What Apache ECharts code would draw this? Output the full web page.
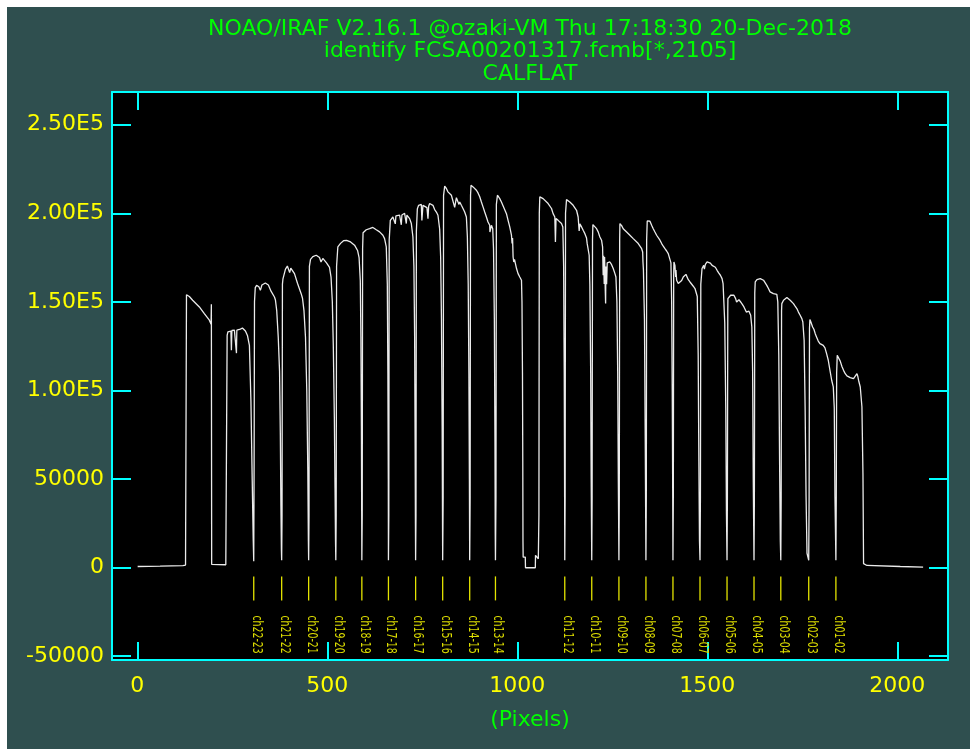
<!DOCTYPE html>
<html><head><meta charset="utf-8">
<script src="https://cdn.jsdelivr.net/npm/echarts@6/dist/echarts.min.js"></script>
<style>
html,body{margin:0;padding:0;background:#ffffff;}
#chart{position:absolute;left:7px;top:7px;width:963px;height:742px;}
</style></head><body><div id="chart"></div>
<script>
// ---------------- data ----------------
const titleLines = [
  'NOAO/IRAF V2.16.1 @ozaki-VM Thu 17:18:30 20-Dec-2018',
  'identify FCSA00201317.fcmb[*,2105]',
  'CALFLAT'
];
const xAxisName = '(Pixels)';
const xTicks = [0, 500, 1000, 1500, 2000];
const xTickLabels = ['0', '500', '1000', '1500', '2000'];
const yTicks = [-50000, 0, 50000, 100000, 150000, 200000, 250000];
const yTickLabels = ['-50000', '0', '50000', '1.00E5', '1.50E5', '2.00E5', '2.50E5'];

// identified features (gaps between channels)
const featureX = [306.5, 380, 451, 522.5, 591, 661, 732.5, 803.7, 874.8, 942.6,
  1125, 1196, 1267.5, 1338.6, 1409.7, 1480.9, 1552, 1623, 1693.5, 1767, 1838.5];
const featureLabels = ['ch22-23', 'ch21-22', 'ch20-21', 'ch19-20', 'ch18-19', 'ch17-18', 'ch16-17',
  'ch15-16', 'ch14-15', 'ch13-14', 'ch11-12', 'ch10-11', 'ch09-10', 'ch08-09', 'ch07-08',
  'ch06-07', 'ch05-06', 'ch04-05', 'ch03-04', 'ch02-03', 'ch01-02'];

// spectrum: [pixel, counts]
const spectrum = [
  [1,500],[60,700],[120,1000],[127,1300],
  [129.5,154000],[137,153000],[145.7,150900],[163.4,147100],[176.5,143300],[189.7,139600],[194.2,137300],[195,148600],[195.8,1700],
  [198,1500],[233,1500],[235,2500],
  [236.5,131000],[238.5,133000],[242.4,133500],[246.4,133500],[247.7,122600],[249,133800],[255.6,134000],[260,134000],[261,121000],[262,134000],[271.4,134600],[276.7,135200],[284.6,133500],[289.9,131000],[295.1,125400],[299.1,94000],[302.5,49000],[305.2,15000],[306.5,3500],
  [307.5,60000],[308.5,150000],[310.5,158000],[314,159300],[320,158500],[324,156500],[328,159500],[337,160600],[345,159500],[352,156000],[361,152700],[363.6,151000],[367,145000],[371,130000],[374.4,111000],[376.5,75000],[378,35000],[379.3,10000],[380,4000],
  [381,30000],[382,160000],[383.4,163000],[390,168500],[395,170200],[398.7,170000],[401,166500],[404,169000],[413.7,165900],[421.6,160500],[431.3,154600],[434.8,152000],[438.7,145000],[442.7,130000],[446.1,100000],[448.8,55000],[450.3,15000],[451,4000],
  [452,30000],[453,170000],[455.9,174000],[462,175500],[470.9,176300],[479.6,175000],[483.5,172500],[488.3,174500],[498,172000],[505.9,169500],[509.9,164000],[513.3,150000],[515.9,125000],[518.6,85000],[520.4,45000],[521.7,15000],[522.5,4000],
  [523.5,30000],[524.5,170000],[527.8,181000],[534.9,183000],[542.8,184500],[550.7,184700],[561.3,183800],[571.8,182000],[579.7,179000],[583.7,175000],[586.9,162000],[588.5,130000],[589.8,80000],[590.6,30000],[591,4000],
  [592,30000],[593,180000],[594.2,189000],[602.6,190700],[611.4,191300],[620,192000],[629,190700],[637.7,189500],[646.4,187600],[650.8,185700],[655.3,181000],[658,160000],[659.5,110000],[660.6,50000],[661,4000],
  [662,30000],[663,185000],[665.9,196000],[672.7,197900],[677.2,198500],[679,194000],[680.6,198500],[690.4,198900],[694.8,193500],[696.4,199000],[699.1,199800],[703.5,200000],[708,194200],[709.5,199000],[716.7,197000],[721.2,194200],[725.4,186600],[728,170000],[729.9,130000],[731.2,70000],[732,25000],[732.5,4000],
  [733.5,30000],[734.5,190000],[737,202500],[740.4,204500],[747.5,205000],[749,196000],[751.8,204500],[756.2,204000],[762.3,203200],[765,197000],[766.8,204000],[769.4,205500],[773.9,205900],[778.1,204500],[782.6,202100],[787.1,200700],[791.3,198900],[795.8,191000],[798.4,175000],[800.5,140000],[802.3,80000],[803.2,30000],[803.7,4000],
  [805,40000],[806,210000],[809,215300],[813.4,214000],[817.6,212100],[826.6,210200],[830.8,209300],[835.3,203300],[839.8,208800],[844,208300],[846.6,205000],[848.5,206400],[852.9,204500],[857.2,202700],[861.6,200700],[866.1,197900],[868.7,186600],[870.9,160000],[872.7,110000],[874,50000],[874.8,4000],
  [876,40000],[877,210000],[878.3,215800],[883.6,214900],[892.5,213000],[896.7,211500],[901.2,209300],[905.6,206400],[909.9,203600],[914.3,200700],[918.8,197900],[923,195100],[927.5,193200],[928,189400],[932,193200],[935.4,191300],[937.5,180000],[939.7,140000],[941.3,70000],[942,20000],[942.6,4000],
  [944,40000],[945,205000],[947.8,210200],[953.9,208300],[958.3,206400],[962.6,205500],[971.5,199800],[975.8,196000],[980.2,192300],[984.7,187600],[986.3,182900],[987.6,186000],[989,175300],[990.8,172500],[992.7,174000],[998,168800],[1002.1,165900],[1006.6,164000],[1011.1,162200],[1012.4,150000],[1013.7,110000],[1014.5,60000],[1015,15000],[1015.5,5800],
  [1021.1,5800],[1021.6,-200],[1047.5,-200],[1048,6800],[1052.7,6000],[1055.4,4900],
  [1057,30000],[1058,200000],[1059.3,209300],[1063.8,209500],[1068,208300],[1072.5,207400],[1081.2,205500],[1085.6,204500],[1090.1,202700],[1094.3,199800],[1098.8,197900],[1100.4,183800],[1102,197000],[1107.5,196000],[1112,195100],[1116.4,194200],[1119.9,192300],[1122,170000],[1123.6,110000],[1124.6,40000],[1125,4000],
  [1126,40000],[1127,200000],[1129.6,207700],[1138.3,206400],[1147.1,204500],[1156,201700],[1160.2,197900],[1162.9,190000],[1164.7,194000],[1169.2,192300],[1173.4,190400],[1177.9,188500],[1182.3,186000],[1183.9,183000],[1186.6,181900],[1189.2,176300],[1191,160000],[1193.2,110000],[1194.5,50000],[1196,4000],
  [1197,40000],[1198,185000],[1199,193600],[1204.2,192600],[1208.7,191300],[1212.9,189500],[1217.4,186600],[1221.8,184800],[1224.5,181000],[1226.1,165000],[1227.2,176000],[1228.8,160000],[1229.8,175300],[1231.4,158000],[1232.5,149000],[1233.2,170000],[1235.1,160000],[1236.7,172000],[1239.3,171600],[1243.8,172500],[1248.2,171000],[1252.5,168800],[1257,165900],[1259.6,164000],[1262.2,150000],[1264.3,110000],[1265.9,50000],[1267.5,4000],
  [1268.5,40000],[1269.5,185000],[1270.1,194200],[1274.6,193000],[1278.8,191300],[1287.8,189400],[1296.4,187600],[1305.2,185700],[1309.7,184800],[1318.4,182900],[1322.9,181900],[1327.3,180000],[1330,178100],[1330.8,172500],[1332,168000],[1334.7,140000],[1336.8,70000],[1338.6,4000],
  [1339.6,40000],[1340.5,185000],[1342,195700],[1344.7,196000],[1349.2,195500],[1353.6,193200],[1357.8,191300],[1362.3,189400],[1366.7,187600],[1375.5,184800],[1380,182900],[1384.2,181400],[1388.6,180000],[1393.1,178700],[1397.3,177200],[1401.8,176300],[1404.4,172000],[1406.3,150000],[1407.8,100000],[1409.1,40000],[1409.7,4000],
  [1410.7,40000],[1411.6,165000],[1412.3,172500],[1414.9,170600],[1416.8,164000],[1417.6,168000],[1419.4,162200],[1423.7,160300],[1428.2,161200],[1432.6,162000],[1436.8,164000],[1441.3,165000],[1443.9,165500],[1445.8,164500],[1450,162500],[1454.5,161200],[1459,160300],[1463.2,158800],[1467.7,157500],[1472.2,156500],[1473.7,153000],[1476.1,120000],[1477.9,60000],[1479.5,15000],[1480.9,4000],
  [1482,40000],[1483,160000],[1486.2,168800],[1490.6,170600],[1492.4,168500],[1495,171200],[1499.5,172500],[1503.7,173100],[1508.2,171800],[1512.6,170600],[1516.8,170100],[1521.3,169500],[1525.8,167800],[1530,166300],[1534.5,165000],[1538.9,163100],[1541.6,160300],[1546,138000],[1548.7,90000],[1550.5,30000],[1552,4000],
  [1553,40000],[1554,145000],[1554.3,151800],[1561.4,153700],[1565.9,154600],[1570.1,153700],[1574.6,151800],[1577.2,149900],[1579.1,150800],[1583.3,151200],[1587.8,149900],[1592.3,148500],[1596.5,147100],[1601,146000],[1602.8,144200],[1605.5,145200],[1609.7,144700],[1614.2,142400],[1617.3,135800],[1619.4,110000],[1621,50000],[1623,4000],
  [1624,40000],[1625,155000],[1626.2,161200],[1630.7,162500],[1634.9,163100],[1639.4,163100],[1643.8,162500],[1648,162200],[1652.4,161200],[1656.6,159300],[1661,157500],[1665.3,155600],[1669.7,154600],[1674,154600],[1678.5,153700],[1683,154200],[1685.6,150000],[1688.2,120000],[1690.3,60000],[1692.2,15000],[1693.5,4000],
  [1694.5,40000],[1695.5,145000],[1696.2,149000],[1700.7,150900],[1705,151800],[1709.5,152400],[1713.7,151800],[1718.2,150900],[1722.5,150000],[1726.8,149000],[1731.2,147600],[1735.7,146200],[1739.9,144200],[1744.4,142400],[1748.9,140500],[1751.5,138600],[1754.9,128300],[1757.5,90000],[1760,40000],[1762.5,8000],[1767,4000],
  [1768,40000],[1769,135000],[1770.1,140000],[1772.7,138600],[1777.2,135800],[1780.6,134500],[1784.1,132000],[1787.8,130000],[1792,127800],[1796.5,126400],[1801,127000],[1805.2,125400],[1809.7,124000],[1814.2,120600],[1818.4,117000],[1822.9,111300],[1827.4,105700],[1831.6,102000],[1834.2,90000],[1836,40000],[1838.5,4000],
  [1839.5,40000],[1840.5,110000],[1842,119800],[1845.4,119500],[1849.9,116500],[1854.4,113500],[1858.6,111300],[1863.1,109400],[1867.5,108200],[1871.7,107500],[1876.2,107200],[1880.7,106600],[1884.9,106600],[1889.4,107500],[1893.9,109400],[1896,108000],[1898.1,105700],[1902.6,101900],[1907,90600],[1909.7,53000],[1911.3,2100],
  [1920.2,1100],[2008,500],[2068,200]
];

// ---------------- style ----------------
const BG = '#2f4f4f', FRAME = '#00ffff', GREEN = '#00ff00', YELLOW = '#ffff00';
const MARK = '#e4e400', MARKTXT = '#dcdc00', LINE = '#ebebeb';
const FONT = '"DejaVu Sans", "Liberation Sans", sans-serif';

const chart = echarts.init(document.getElementById('chart'), null, {renderer: 'canvas'});

const axisCommon = {
  type: 'value',
  splitLine: {show: false},
  axisLine: {show: true, onZero: false, lineStyle: {color: FRAME, width: 2}},
};

chart.setOption({
  backgroundColor: BG,
  animation: false,
  title: {
    text: titleLines.join('\n'),
    left: 523, top: 11, padding: 0, textAlign: 'center',
    textStyle: {color: GREEN, fontSize: 22, fontWeight: 'normal', fontFamily: FONT, lineHeight: 22.5}
  },
  grid: {left: 105, top: 85, width: 836, height: 568, show: true, backgroundColor: '#000000', borderWidth: 0},
  xAxis: [
    Object.assign({}, axisCommon, {
      position: 'bottom', min: -66.5, max: 2133.5,
      name: xAxisName, nameLocation: 'middle', nameGap: 49,
      nameTextStyle: {color: GREEN, fontSize: 22, fontFamily: FONT},
      axisTick: {show: true, inside: true, length: 18, customValues: xTicks, lineStyle: {color: FRAME, width: 2}},
      axisLabel: {show: true, customValues: xTicks, margin: 15, color: YELLOW, fontSize: 22, fontFamily: FONT,
        formatter: v => xTickLabels[xTicks.indexOf(v)]}
    }),
    Object.assign({}, axisCommon, {
      position: 'top', min: -66.5, max: 2133.5,
      axisTick: {show: true, inside: true, length: 18, customValues: xTicks, lineStyle: {color: FRAME, width: 2}},
      axisLabel: {show: false}
    })
  ],
  yAxis: [
    Object.assign({}, axisCommon, {
      position: 'left', min: -52300, max: 268500,
      axisTick: {show: true, inside: true, length: 19, customValues: yTicks, lineStyle: {color: FRAME, width: 2}},
      axisLabel: {show: true, customValues: yTicks, margin: 8, color: YELLOW, fontSize: 22, fontFamily: FONT,
        formatter: v => yTickLabels[yTicks.indexOf(v)]}
    }),
    Object.assign({}, axisCommon, {
      position: 'right', min: -52300, max: 268500,
      axisTick: {show: true, inside: true, length: 19, customValues: yTicks, lineStyle: {color: FRAME, width: 2}},
      axisLabel: {show: false}
    })
  ],
  series: [
    {
      type: 'line', xAxisIndex: 0, yAxisIndex: 0,
      data: spectrum, showSymbol: false, symbol: 'none', silent: true,
      lineStyle: {color: LINE, width: 1.3}
    },
    {
      type: 'custom', xAxisIndex: 0, yAxisIndex: 0, silent: true,
      data: featureX.map(v => [v, 0]),
      renderItem: function (params, api) {
        const base = api.coord([api.value(0), 0]);
        return {
          type: 'group',
          children: [
            {type: 'line', shape: {x1: base[0], y1: base[1] + 9, x2: base[0], y2: base[1] + 33},
              style: {stroke: MARK, lineWidth: 1.3}},
            {type: 'text', x: base[0], y: base[1] + 48, rotation: -Math.PI / 2, scaleX: 0.67,
              style: {text: featureLabels[params.dataIndex], x: 0, y: -2.5, align: 'left', verticalAlign: 'middle',
                fill: MARKTXT, font: '14px ' + FONT}}
          ]
        };
      }
    }
  ]
});
</script></body></html>
